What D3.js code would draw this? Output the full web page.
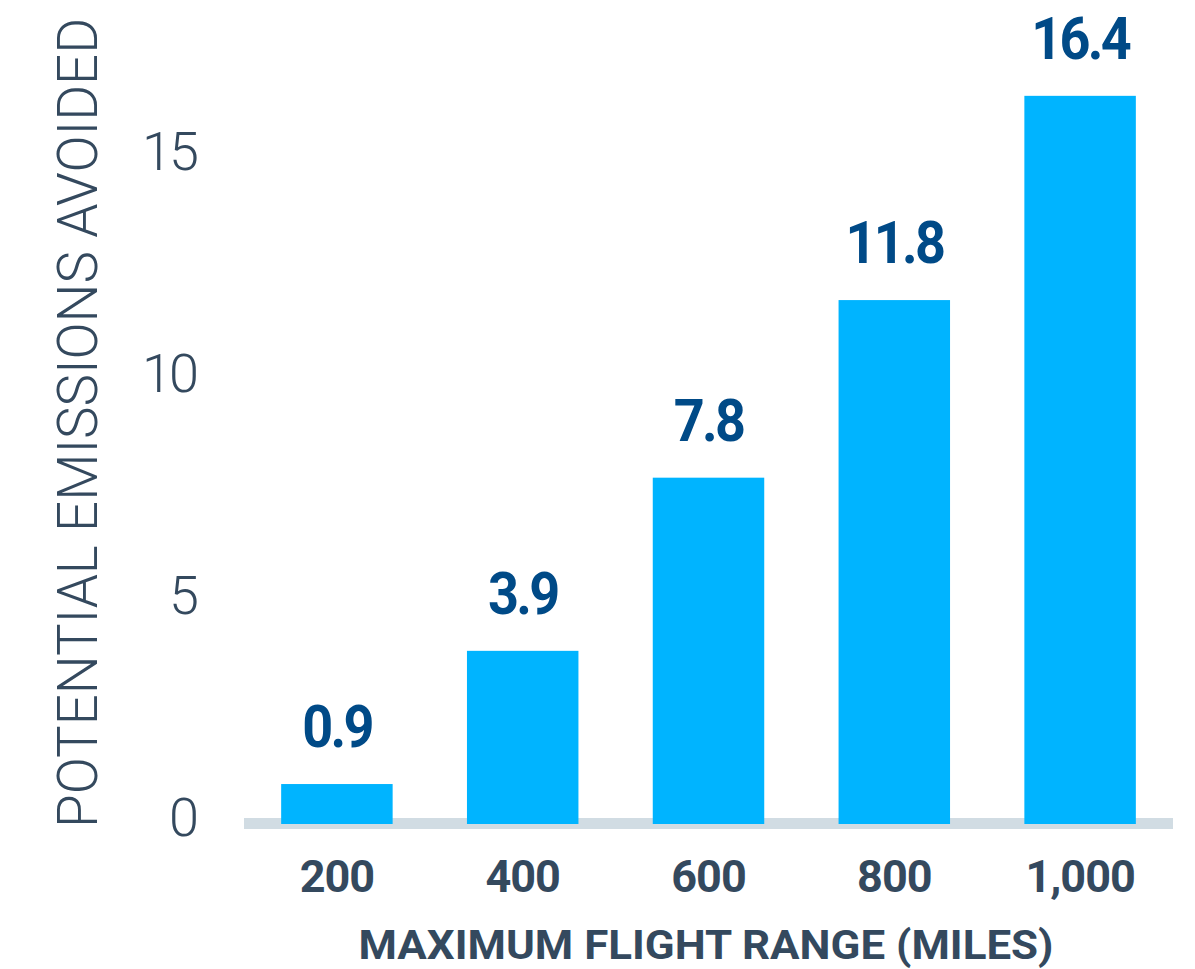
<!DOCTYPE html>
<html>
<head>
<meta charset="utf-8">
<script src="https://cdn.jsdelivr.net/npm/d3@7"></script>
<style>
  body { margin: 0; background: #fff; }
  svg { display: block; font-family: Roboto, "Noto Sans", sans-serif; }
</style>
</head>
<body>
<svg class="chart"></svg>
<script>
var svgWidth = 1195,
    svgHeight = 969;

// data
var ranges = ['200', '400', '600', '800', '1,000'];
var emissions = [0.9, 3.9, 7.8, 11.8, 16.4];
var yTicks = [0, 5, 10, 15];
var xTitle = 'MAXIMUM FLIGHT RANGE (MILES)';
var yTitle = 'POTENTIAL EMISSIONS AVOIDED';

var barColor = '#00b4ff',
    valueColor = '#004a87',
    textColor = '#34495e',
    baseColor = '#d1dce3';

var data = ranges.map(function(r, i) { return {range: r, value: emissions[i]}; });

var xScale = d3.scaleBand()
    .domain(ranges)
    .range([244, 1173])
    .paddingInner(0.4)
    .paddingOuter(0.2);

var yScale = d3.scaleLinear()
    .domain([0, 15])
    .range([824, 158]);

var svg = d3.select('.chart')
    .attr('width', svgWidth)
    .attr('height', svgHeight);

// baseline
svg.append('rect')
    .attr('x', xScale.range()[0])
    .attr('y', yScale(0) - 6)
    .attr('width', xScale.range()[1] - xScale.range()[0])
    .attr('height', 11)
    .attr('fill', baseColor);

// y axis (labels only)
var yAxis = d3.axisLeft(yScale).tickValues(yTicks).tickSize(0).tickPadding(0);
var yg = svg.append('g')
    .attr('class', 'yaxis')
    .attr('transform', 'translate(196,0)')
    .call(yAxis);
yg.select('.domain').remove();
yg.selectAll('text')
    .attr('dy', '0.32em')
    .attr('y', -6)
    .attr('fill', textColor)
    .style('font-size', '54px')
    .style('font-weight', 300)
    .style('font-family', 'Roboto, sans-serif')
    .style('letter-spacing', '-3px');

// x axis (labels only)
var xAxis = d3.axisBottom(xScale).tickSize(0).tickPadding(0);
var xg = svg.append('g')
    .attr('class', 'xaxis')
    .attr('transform', 'translate(0,892)')
    .call(xAxis);
xg.select('.domain').remove();
xg.selectAll('text')
    .attr('dy', 0)
    .attr('y', 0)
    .attr('fill', textColor)
    .style('font-size', '45px')
    .style('font-weight', 700)
    .style('font-family', 'Roboto, sans-serif')
    .style('letter-spacing', '-1px');

// bars
svg.selectAll('.bar')
    .data(data)
    .enter().append('rect')
    .attr('class', 'bar')
    .attr('x', function(d) { return xScale(d.range); })
    .attr('y', function(d) { return yScale(d.value); })
    .attr('width', xScale.bandwidth())
    .attr('height', function(d) { return yScale(0) - yScale(d.value); })
    .attr('fill', barColor);

// value labels, squeezed a bit to look condensed
svg.selectAll('.value')
    .data(data)
    .enter().append('text')
    .attr('class', 'value')
    .attr('transform', function(d) {
        return 'translate(' + (xScale(d.range) + xScale.bandwidth() / 2) + ',' + (yScale(d.value) - 37) + ') scale(0.9,1)';
    })
    .attr('text-anchor', 'middle')
    .attr('fill', valueColor)
    .style('font-size', '60px')
    .style('font-weight', 700)
    .style('letter-spacing', '-3px')
    .text(function(d) { return d.value.toFixed(1); });

// axis titles
svg.append('text')
    .attr('x', 706)
    .attr('y', 959)
    .attr('text-anchor', 'middle')
    .attr('fill', textColor)
    .attr('textLength', 695)
    .attr('lengthAdjust', 'spacingAndGlyphs')
    .style('font-size', '41px')
    .style('font-weight', 700)
    .text(xTitle);

svg.append('text')
    .attr('transform', 'translate(97,423) rotate(-90)')
    .attr('text-anchor', 'middle')
    .attr('fill', textColor)
    .attr('textLength', 810)
    .attr('lengthAdjust', 'spacingAndGlyphs')
    .style('font-size', '56px')
    .style('font-weight', 300)
    .text(yTitle);
</script>
</body>
</html>
